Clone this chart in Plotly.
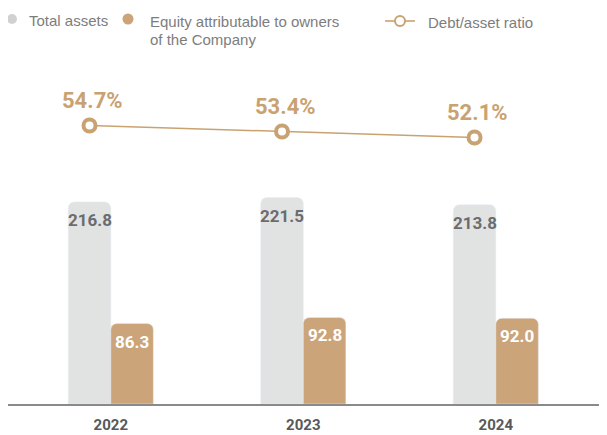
import plotly.graph_objects as go

years = ["2022", "2023", "2024"]
total_assets = [216.8, 221.5, 213.8]
equity = [86.3, 92.8, 92.0]
debt_ratio = [54.7, 53.4, 52.1]
legend_labels = ["Total assets", "Equity attributable to owners", "of the Company", "Debt/asset ratio"]

GREY = "#e1e3e2"
TAN = "#cca479"
LINE = "#c9a271"
TXT = "#6b6c6e"
LEG = "#7d7d7d"
NUM_FONT = "Roboto, Liberation Sans, sans-serif"
TXT_FONT = "Liberation Sans, Arial, sans-serif"

# page offset (browser body margin) compensation
OFF = 8
W, H = 607, 435
ML, MR, MT, MB = 0, 11, 52, 39
PW, PH = W - ML - MR, H - MT - MB


def px(xp):
    return (xp - OFF - ML) / PW


def py(yp):
    return (H - MB - (yp - OFF)) / PH


xs = list(range(len(years)))
off = 0.1105

fig = go.Figure()
fig.add_trace(go.Bar(x=xs, y=total_assets, marker_color=GREY, showlegend=False,
                     offsetgroup="a", hoverinfo="skip"))
fig.add_trace(go.Bar(x=xs, y=equity, marker_color=TAN, showlegend=False,
                     offsetgroup="b", hoverinfo="skip"))
fig.add_trace(go.Scatter(
    x=[x - off for x in xs], y=debt_ratio, yaxis="y2", mode="lines+markers",
    line=dict(color=LINE, width=1.5),
    marker=dict(symbol="circle", size=12, color="white", line=dict(color=LINE, width=4)),
    showlegend=False, hoverinfo="skip"))

for i, x in enumerate(xs):
    fig.add_annotation(x=x - off, y=total_assets[i], text=f"<b>{total_assets[i]:.1f}</b>",
                       showarrow=False, yanchor="top", yshift=-6,
                       font=dict(family=NUM_FONT, size=17, color=TXT))
    fig.add_annotation(x=x + off, y=equity[i], text=f"<b>{equity[i]:.1f}</b>",
                       showarrow=False, yanchor="top", yshift=-6,
                       font=dict(family=NUM_FONT, size=17, color="white"))
    fig.add_annotation(x=x - off, y=debt_ratio[i], yref="y2", xshift=3,
                       text=f"<b>{debt_ratio[i]:.1f}%</b>",
                       showarrow=False, yanchor="bottom", yshift=10,
                       font=dict(family=NUM_FONT, size=22, color=LINE))

# custom legend (page-pixel positions)
def dot(cx, cy, d, fill, line_color=None, lw=0):
    fig.add_shape(type="circle", xref="paper", yref="paper", xsizemode="pixel", ysizemode="pixel",
                  xanchor=px(cx), yanchor=py(cy), x0=-d / 2, x1=d / 2, y0=-d / 2, y1=d / 2,
                  fillcolor=fill, line=dict(color=line_color or fill, width=lw), layer="above")


def label(x_left, cy, text):
    fig.add_annotation(xref="paper", yref="paper", x=px(x_left), y=py(cy), text=text,
                       showarrow=False, xanchor="left", yanchor="middle",
                       font=dict(family=TXT_FONT, size=15, color=LEG))


dot(12, 19, 10, "#d0d1d3")
label(27, 20, legend_labels[0])
dot(128, 19, 11, TAN)
label(148, 21, legend_labels[1])
label(148, 40, legend_labels[2])
fig.add_shape(type="line", xref="paper", yref="paper", x0=px(385), x1=px(415), y0=py(21), y1=py(21),
              line=dict(color=LINE, width=1.6))
dot(400, 21, 10, "white", LINE, 2)
label(426, 22, legend_labels[3])

fig.update_layout(
    width=W, height=H,
    margin=dict(l=ML, r=MR, t=MT, b=MB, autoexpand=False),
    paper_bgcolor="white", plot_bgcolor="white",
    barmode="group", bargap=0.558, bargroupgap=0, barcornerradius=6,
    font=dict(family=TXT_FONT, color=LEG),
    showlegend=False,
    xaxis=dict(range=[-0.534, 2.562], tickvals=xs,
               ticktext=[f"<b>{y}</b>" for y in years],
               tickfont=dict(family=NUM_FONT, size=15, color="#58595b"),
               showline=True, linecolor="#8a8a8a", linewidth=1.5,
               showgrid=False, zeroline=False, ticks="outside", ticklen=6,
               tickcolor="rgba(0,0,0,0)"),
    yaxis=dict(range=[0, 369], visible=False, showgrid=False),
    yaxis2=dict(range=[-5.65, 68.89], overlaying="y", visible=False, showgrid=False),
)

fig.write_html("out.html")
